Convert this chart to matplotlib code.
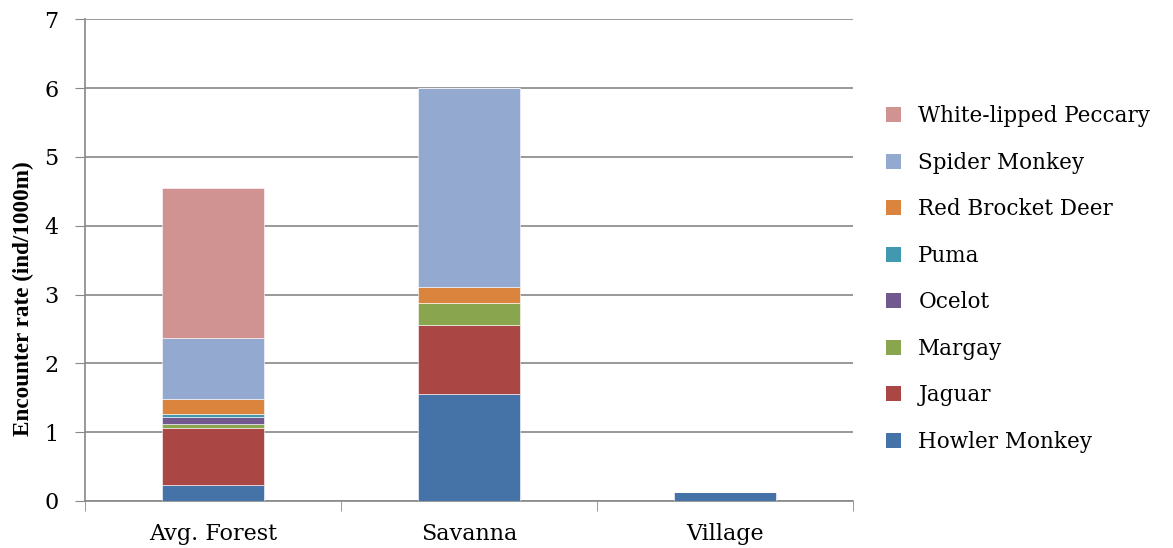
import numpy as np
import matplotlib.pyplot as plt
from matplotlib.patches import Patch

sites = ["Avg. Forest", "Savanna", "Village"]
species = ["Howler Monkey", "Jaguar", "Margay", "Ocelot", "Puma",
           "Red Brocket Deer", "Spider Monkey", "White-lipped Peccary"]
colors = ["#4572A7", "#AA4643", "#89A54E", "#71588F", "#4198AF",
          "#DB843D", "#93A9CF", "#D19392"]

howler = [0.23, 1.56, 0.13]
jaguar = [0.83, 1.00, 0.0]
margay = [0.065, 0.32, 0.0]
ocelot = [0.09, 0.0, 0.0]
puma = [0.05, 0.0, 0.0]
deer = [0.21, 0.23, 0.0]
spider = [0.90, 2.89, 0.0]
peccary = [2.17, 0.0, 0.0]
rates = [howler, jaguar, margay, ocelot, puma, deer, spider, peccary]

plt.rcParams['font.family'] = ['DejaVu Serif']
fig = plt.figure(figsize=(11.73, 5.48), dpi=100)
ax = fig.add_axes([0.0725, 0.0858, 0.6547, 0.879])

x = np.arange(len(sites))
bottom = np.zeros(len(sites))
for vals, c in zip(rates, colors):
    vals = np.array(vals)
    ax.bar(x, vals, 0.4, bottom=bottom, color=c, edgecolor="white",
           linewidth=0.4, zorder=3)
    bottom += vals

ax.set_xlim(-0.5, 2.5)
ax.set_ylim(0, 7)
ax.set_yticks(range(8))
ax.set_xticks(x)
ax.set_xticklabels(sites, fontsize=16)
ax.set_xticks([-0.5, 0.5, 1.5, 2.5], minor=True)
ax.tick_params(axis="x", which="major", length=0, pad=16)
ax.tick_params(axis="x", which="minor", length=7, color="#888888")
ax.tick_params(axis="y", labelsize=16, length=7, pad=12, color="#888888")
ax.grid(axis="y", color="#888888", linewidth=1.2, zorder=0)
for s in ["top", "right"]:
    ax.spines[s].set_visible(False)
for s in ["left", "bottom"]:
    ax.spines[s].set_color("#888888")
    ax.spines[s].set_linewidth(1.2)
ax.set_ylabel("Encounter rate (ind/1000m)", fontsize=16.7, fontweight="bold",
              family="Liberation Serif")
ax.yaxis.set_label_coords(-0.066, 0.421)

handles = [Patch(facecolor=c) for c in colors][::-1]
fig.legend(handles, species[::-1], loc="center left",
           bbox_to_anchor=(0.748, 0.491), frameon=False, fontsize=15.5,
           handlelength=0.7, handleheight=0.7, labelspacing=1.14,
           handletextpad=0.8, borderaxespad=0)

fig.savefig("out.png", dpi=100)
